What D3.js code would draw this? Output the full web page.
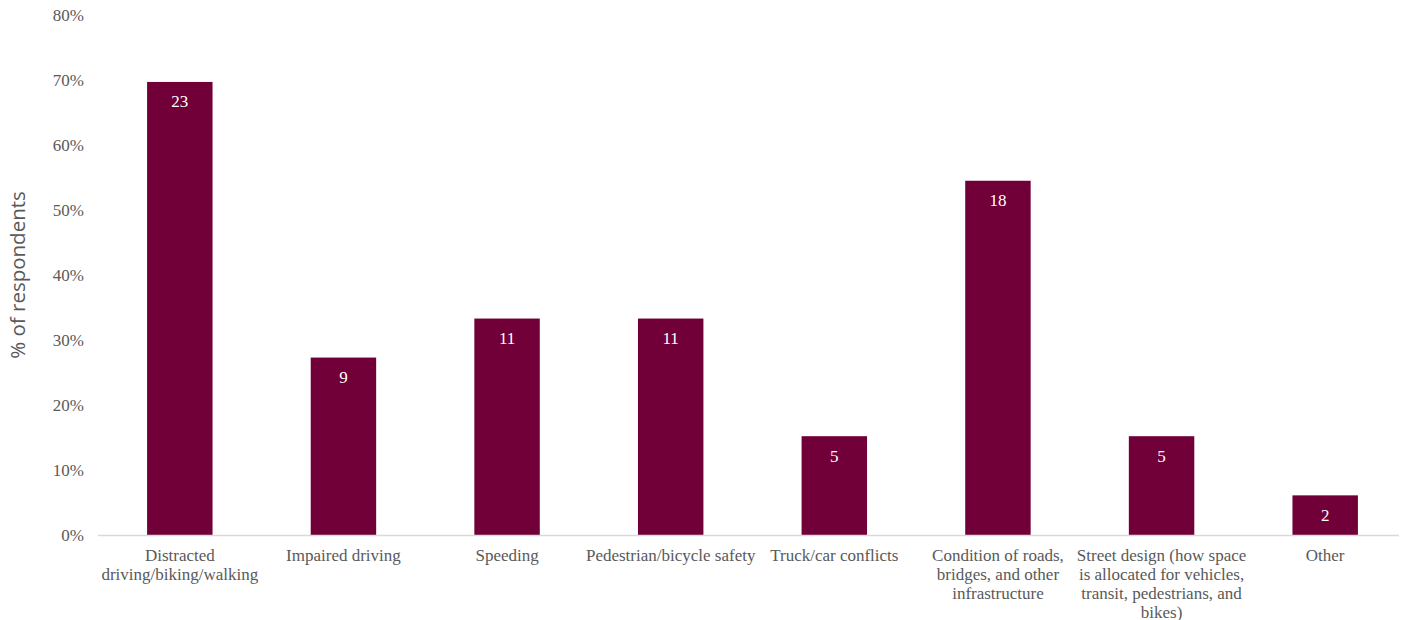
<!DOCTYPE html>
<html>
<head>
<meta charset="utf-8">
<script src="https://cdn.jsdelivr.net/npm/d3@7"></script>
<style>
  html, body { margin: 0; padding: 0; background: #ffffff; }
  svg { display: block; }
</style>
</head>
<body>
<svg id="chart" width="1401" height="620"></svg>
<script>
const categories = [
  "Distracted\ndriving/biking/walking",
  "Impaired driving",
  "Speeding",
  "Pedestrian/bicycle safety",
  "Truck/car conflicts",
  "Condition of roads,\nbridges, and other\ninfrastructure",
  "Street design (how space\nis allocated for vehicles,\ntransit, pedestrians, and\nbikes)",
  "Other"
];
const percents = [69.7, 27.3, 33.3, 33.3, 15.2, 54.5, 15.2, 6.1];
const counts = [23, 9, 11, 11, 5, 18, 5, 2];
const yTicks = [0, 10, 20, 30, 40, 50, 60, 70, 80];
const yTitle = "% of respondents";

(function () {
const svg = d3.select("#chart");
const mLeft = 98, mRight = 1407, mTop = 15, mBottom = 535;
const serif = "'Liberation Serif', 'Times New Roman', serif";
const gray = "#595959";
const barColor = "#720038";

const x = d3.scaleBand().domain(categories).range([mLeft, mRight]).paddingInner(0.6).paddingOuter(0.3);
const y = d3.scaleLinear().domain([0, 80]).range([mBottom, mTop]);

// y axis tick labels
const yAxis = d3.axisLeft(y).tickValues(yTicks).tickFormat(d => d + "%").tickSize(0).tickPadding(0);
const gy = svg.append("g").attr("transform", `translate(${84},0)`).call(yAxis);
gy.select(".domain").remove();
gy.selectAll("text").attr("font-family", serif).attr("font-size", 17).attr("fill", gray);

// bars
svg.append("g").selectAll("rect").data(categories).join("rect")
  .attr("x", d => x(d))
  .attr("y", (d, i) => y(percents[i]))
  .attr("width", x.bandwidth())
  .attr("height", (d, i) => y(0) - y(percents[i]))
  .attr("fill", barColor);

// baseline
svg.append("line").attr("x1", mLeft).attr("x2", 1399).attr("y1", y(0) + 0.5).attr("y2", y(0) + 0.5)
  .attr("stroke", "#d9d9d9").attr("stroke-width", 1.3);

// data labels
svg.append("g").selectAll("text").data(categories).join("text")
  .attr("x", d => x(d) + x.bandwidth() / 2)
  .attr("y", (d, i) => y(percents[i]) + 25.5)
  .attr("text-anchor", "middle")
  .attr("font-family", serif).attr("font-size", 17).attr("fill", "#ffffff")
  .text((d, i) => counts[i]);

// x category labels
const xAxis = d3.axisBottom(x).tickSize(0).tickPadding(0);
const gx = svg.append("g").attr("transform", `translate(0,${mBottom})`).call(xAxis);
gx.select(".domain").remove();
gx.selectAll(".tick text").each(function(d) {
  const t = d3.select(this);
  t.text(null).attr("y", 0).attr("dy", null)
    .attr("font-family", serif).attr("font-size", 17).attr("fill", gray);
  d.split("\n").forEach((line, i) => {
    t.append("tspan").attr("x", 0).attr("y", 25.5 + i * 19).text(line);
  });
});

// y title
svg.append("text")
  .attr("transform", `translate(25,${(mTop + mBottom) / 2}) rotate(-90)`)
  .attr("text-anchor", "middle")
  .attr("font-family", "'Open Sans', sans-serif").attr("font-size", 20.5).attr("fill", gray)
  .text(yTitle);
})();
</script>
</body>
</html>
